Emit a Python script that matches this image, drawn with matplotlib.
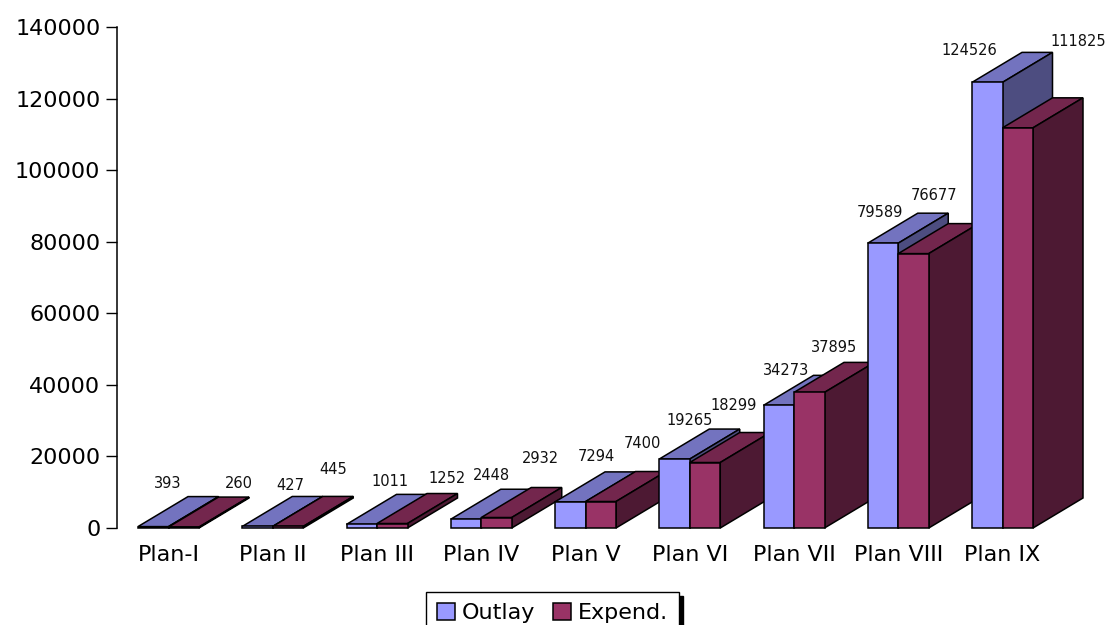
import matplotlib
matplotlib.use("Agg")
import matplotlib.pyplot as plt
from matplotlib.patches import Patch, Polygon

plans = ["Plan-I", "Plan II", "Plan III", "Plan IV", "Plan V", "Plan VI", "Plan VII", "Plan VIII", "Plan IX"]
outlay = [393, 427, 1011, 2448, 7294, 19265, 34273, 79589, 124526]
expend = [260, 445, 1252, 2932, 7400, 18299, 37895, 76677, 111825]
yticks = [0, 20000, 40000, 60000, 80000, 100000, 120000, 140000]

# hand placed data labels in the original, pixel offsets from the bar top centre
outlay_offsets = [(14, 43), (33, 41), (28, 43), (25, 44), (26, 45), (15, 39), (7, 35), (-3, 31), (-18, 32)]
expend_offsets = [(55, 44), (45, 57), (55, 45), (44, 59), (42, 58), (29, 57), (25, 45), (21, 58), (60, 86)]

COLORS = {
    "outlay": ("#9999FF", "#7373BF", "#4D4D80"),
    "expend": ("#993366", "#73264D", "#4D1933"),
}
W, H = 1116, 625
STEP = 104.25      # px between categories
BAR_W = 30.5 / STEP
DEPTH_X = 50 / STEP
DEPTH_Y = 30 * 140000 / 501

fig = plt.figure(figsize=(W / 100, H / 100), dpi=100)
ax = fig.add_axes([117 / W, (H - 528) / H, (W - 117) / W, 501 / H])
ax.set_xlim((117 - 168.5) / STEP, (W - 168.5) / STEP)
ax.set_ylim(0, 140000)


def draw_bar(x, v, colors):
    front, top, side = colors
    x1 = x + BAR_W
    faces = [
        ([(x, v), (x + DEPTH_X, v + DEPTH_Y), (x1 + DEPTH_X, v + DEPTH_Y), (x1, v)], top),
        ([(x1, 0), (x1 + DEPTH_X, DEPTH_Y), (x1 + DEPTH_X, v + DEPTH_Y), (x1, v)], side),
        ([(x, 0), (x, v), (x1, v), (x1, 0)], front),
    ]
    for pts, c in faces:
        ax.add_patch(Polygon(pts, closed=True, facecolor=c, edgecolor="black",
                             lw=1.1, joinstyle="miter", clip_on=False))


for i in range(len(plans)):
    draw_bar(i - BAR_W, outlay[i], COLORS["outlay"])
    draw_bar(i, expend[i], COLORS["expend"])

for i in range(len(plans)):
    ax.annotate(str(outlay[i]), (i - BAR_W / 2, outlay[i]), xytext=outlay_offsets[i],
                textcoords="offset pixels", ha="center", va="center", fontsize=10.5,
                color="#111111", annotation_clip=False)
    ax.annotate(str(expend[i]), (i + BAR_W / 2, expend[i]), xytext=expend_offsets[i],
                textcoords="offset pixels", ha="center", va="center", fontsize=10.5,
                color="#111111", annotation_clip=False)

ax.set_yticks(yticks)
ax.set_yticklabels([str(t) for t in yticks], fontsize=16)
ax.set_xticks(range(len(plans)))
ax.set_xticklabels(plans, fontsize=16)
ax.tick_params(axis="x", length=0, pad=12.5)
ax.tick_params(axis="y", length=8, width=1, pad=4)
for s in ["top", "right", "bottom"]:
    ax.spines[s].set_visible(False)
ax.spines["left"].set_linewidth(1.1)
ax.patch.set_alpha(0)

handles = [Patch(facecolor=COLORS["outlay"][0], edgecolor="black", lw=1.1, label="Outlay"),
           Patch(facecolor=COLORS["expend"][0], edgecolor="black", lw=1.1, label="Expend.")]
leg = fig.legend(handles=handles, loc="upper center", bbox_to_anchor=(552.5 / W, (H - 592) / H),
                 ncol=2, fontsize=16, frameon=True, fancybox=False, framealpha=1,
                 edgecolor="black", borderaxespad=0, handlelength=0.8, handleheight=0.8,
                 handletextpad=0.3, columnspacing=0.8, borderpad=0.5,
                 shadow={"ox": 3, "oy": -3, "facecolor": "black", "alpha": 1, "edgecolor": "black"})

fig.savefig("out.png", dpi=100)
